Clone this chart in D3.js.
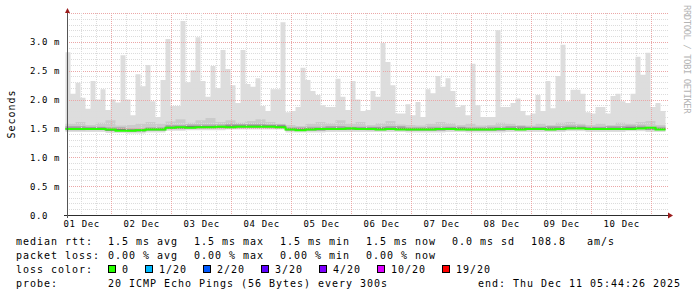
<!DOCTYPE html>
<html>
<head>
<meta charset="utf-8">
<script src="https://cdn.jsdelivr.net/npm/d3@7"></script>
<style>
body { margin: 0; background: #fff; }
svg { display: block; }
text { font-family: "DejaVu Sans Mono", monospace; fill: #000; }
</style>
</head>
<body>
<div id="chart"></div>
<script>
// time window of the graph (10 days ending at the probe time)
var endTime = new Date(2025, 11, 11, 5, 44, 26);
var startTime = new Date(endTime.getTime() - 10 * 86400000);

// rtt in ms, each array spread evenly over the window
var maxRtt = [2.82, 2.1, 2.29, 2.03, 1.84, 2.32, 2.0, 2.18, 1.82, 2.0,
              1.95, 2.77, 2.0, 1.73, 2.44, 2.23, 2.6, 1.97, 1.7, 2.34,
              3.05, 1.89, 1.89, 3.36, 2.3, 2.51, 3.08, 2.32, 2.05, 2.58,
              2.2, 2.86, 2.53, 2.25, 1.94, 2.86, 2.27, 2.22, 2.37, 1.89,
              1.8, 2.18, 2.18, 3.34, 1.78, 1.8, 1.87, 2.55, 2.34, 2.15,
              2.08, 1.9, 1.87, 1.87, 2.36, 2.05, 1.82, 2.32, 2.0, 1.8,
              1.82, 2.15, 2.05, 2.98, 2.65, 2.25, 1.76, 1.76, 1.92, 1.73,
              1.96, 1.7, 2.18, 2.11, 2.41, 2.22, 2.37, 2.15, 1.87, 1.9,
              1.73, 2.62, 1.9, 1.7, 1.7, 1.7, 3.2, 1.87, 1.87, 1.94,
              2.02, 1.8, 1.73, 1.76, 2.08, 1.8, 2.32, 1.85, 2.41, 2.95,
              1.97, 2.17, 2.17, 2.1, 1.78, 1.76, 1.87, 1.87, 1.76, 2.06,
              2.1, 1.97, 1.94, 2.1, 2.74, 2.43, 2.81, 1.87, 1.94, 1.8];
var upperRtt2 = [1.58, 1.61, 1.56, 1.60, 1.64, 1.55, 1.56, 1.58, 1.61, 1.58,
                 1.62, 1.66, 1.60, 1.64, 1.68, 1.61, 1.64, 1.60, 1.63, 1.66,
                 1.61, 1.58, 1.56, 1.54, 1.58, 1.61, 1.59, 1.64, 1.58, 1.61,
                 1.56, 1.59, 1.63, 1.57, 1.56, 1.55, 1.58, 1.61, 1.59, 1.56,
                 1.58, 1.55, 1.56, 1.60, 1.58, 1.56, 1.55, 1.58, 1.56, 1.60,
                 1.61, 1.58, 1.56, 1.58, 1.56, 1.60, 1.58, 1.61, 1.63, 1.56];
var upperRtt3 = [1.54, 1.53, 1.52, 1.50, 1.52, 1.56, 1.57, 1.57, 1.58, 1.58,
                 1.57, 1.52, 1.53, 1.54, 1.53, 1.53, 1.54, 1.52, 1.53, 1.53,
                 1.52, 1.53, 1.54, 1.53, 1.54, 1.55, 1.53, 1.54, 1.55, 1.53];
var upperRtt4 = [1.51, 1.51, 1.49, 1.48, 1.50, 1.53, 1.54, 1.54, 1.55, 1.55,
                 1.55, 1.50, 1.50, 1.51, 1.51, 1.51, 1.51, 1.50, 1.50, 1.51,
                 1.50, 1.50, 1.51, 1.51, 1.51, 1.52, 1.51, 1.51, 1.52, 1.50];
var medianRtt = [1.49, 1.49, 1.49, 1.49, 1.48, 1.46, 1.46, 1.47, 1.48, 1.48,
                 1.51, 1.52, 1.51, 1.52, 1.52, 1.53, 1.52, 1.53, 1.53, 1.53,
                 1.53, 1.52, 1.48, 1.47, 1.48, 1.49, 1.49, 1.49, 1.50, 1.49,
                 1.49, 1.48, 1.49, 1.48, 1.48, 1.48, 1.48, 1.49, 1.49, 1.48,
                 1.48, 1.48, 1.48, 1.49, 1.49, 1.48, 1.49, 1.49, 1.48, 1.49,
                 1.50, 1.50, 1.49, 1.49, 1.49, 1.49, 1.49, 1.50, 1.51, 1.48];
var lowerRtt3 = [1.48, 1.48, 1.46, 1.45, 1.47, 1.50, 1.51, 1.51, 1.52, 1.52,
                 1.52, 1.47, 1.47, 1.48, 1.48, 1.48, 1.48, 1.47, 1.47, 1.48,
                 1.47, 1.47, 1.48, 1.48, 1.48, 1.49, 1.48, 1.48, 1.49, 1.48];
var lowerRtt2 = [1.46, 1.47, 1.45, 1.44, 1.46, 1.48, 1.49, 1.50, 1.50, 1.51,
                 1.50, 1.46, 1.46, 1.47, 1.47, 1.46, 1.47, 1.46, 1.46, 1.47,
                 1.46, 1.46, 1.47, 1.47, 1.46, 1.48, 1.47, 1.47, 1.48, 1.47];
var minRtt = [1.44, 1.44, 1.42, 1.41, 1.43, 1.46, 1.47, 1.47, 1.48, 1.48,
              1.48, 1.43, 1.43, 1.44, 1.44, 1.44, 1.44, 1.43, 1.43, 1.44,
              1.43, 1.43, 1.44, 1.44, 1.44, 1.45, 1.44, 1.44, 1.45, 1.44];

var yTicks = [0, 0.5, 1.0, 1.5, 2.0, 2.5, 3.0];
var yTickLabels = ["0.0", "0.5 m", "1.0 m", "1.5 m", "2.0 m", "2.5 m", "3.0 m"];

var rttStats = ["1.5 ms avg", "1.5 ms max", "1.5 ms min", "1.5 ms now", "0.0 ms sd"];
var lossStats = ["0.00 % avg", "0.00 % max", "0.00 % min", "0.00 % now"];
var lossLabels = ["0", "1/20", "2/20", "3/20", "4/20", "10/20", "19/20"];
var lossColors = ["#26ff00", "#00b8ff", "#0059ff", "#5e00ff", "#7e00ff", "#dd00ff", "#ff0000"];

var width = 697, height = 297;
var plot = {left: 67, right: 665, top: 13, bottom: 215};

var svg = d3.select("#chart").append("svg")
    .attr("width", width)
    .attr("height", height);

svg.append("rect").attr("width", width).attr("height", height).attr("fill", "#fff");

var x = d3.scaleTime()
    .domain([startTime, endTime])
    .range([plot.left - 1.5, plot.right + 0.5]);

var y = d3.scaleLinear()
    .domain([0, 3.5])
    .range([plot.bottom, plot.top]);

// resample every array on a common step grid
var nSteps = 120;
var stepMs = (endTime - startTime) / nSteps;
function stepVal(arr, j) {
    j = Math.min(j, nSteps - 1);
    return arr[Math.floor(j * arr.length / nSteps)];
}
var steps = d3.range(nSteps + 1);
function stepTime(j) { return new Date(startTime.getTime() + j * stepMs); }

var bands = [
    {lo: minRtt, hi: maxRtt, color: "#dddddd"},
    {lo: lowerRtt2, hi: upperRtt2, color: "#cbcbcb"},
    {lo: lowerRtt3, hi: upperRtt3, color: "#adadad"},
    {lo: lowerRtt3, hi: upperRtt4, color: "#7a7a7a"}
];

bands.forEach(function(b) {
    var area = d3.area()
        .curve(d3.curveStepAfter)
        .x(j => x(stepTime(j)))
        .y0(j => y(stepVal(b.lo, j)))
        .y1(j => y(stepVal(b.hi, j)));
    svg.append("path")
        .attr("d", area(steps))
        .attr("fill", b.color);
});

// grid
var grid = svg.append("g").attr("shape-rendering", "crispEdges");
var minorColor = "#dcdcdc", majorColor = "#eba7a7";

d3.range(0, 3.51, 0.1).forEach(function(v) {
    var major = Math.abs(v * 2 - Math.round(v * 2)) < 1e-6;
    if (v < 0.05) return;
    grid.append("line")
        .attr("x1", plot.left).attr("x2", plot.right + 4)
        .attr("y1", Math.round(y(v)) + 0.5).attr("y2", Math.round(y(v)) + 0.5)
        .attr("stroke", major ? majorColor : minorColor)
        .attr("stroke-dasharray", "1,1");
});

d3.timeHour.every(6).range(startTime, endTime).forEach(function(t) {
    var major = t.getHours() === 0;
    var xx = Math.round(x(t)) + 0.5;
    if (xx < plot.left + 1) return;
    grid.append("line")
        .attr("x1", xx).attr("x2", xx)
        .attr("y1", plot.top).attr("y2", plot.bottom)
        .attr("stroke", major ? majorColor : minorColor)
        .attr("stroke-dasharray", "1,1");
});

// median line
var medLine = d3.line()
    .curve(d3.curveStepAfter)
    .x(j => x(stepTime(j)))
    .y(j => y(stepVal(medianRtt, j)));
svg.append("path")
    .attr("d", medLine(steps))
    .attr("fill", "none")
    .attr("stroke", lossColors[0])
    .attr("stroke-width", 2);

// axes
var axisColor = "#2c2c2c", arrowColor = "#9b1c1c";
svg.append("line")
    .attr("x1", plot.left - 3).attr("x2", plot.right + 4)
    .attr("y1", plot.bottom + 0.5).attr("y2", plot.bottom + 0.5)
    .attr("stroke", axisColor);
svg.append("line")
    .attr("x1", plot.left + 0.5).attr("x2", plot.left + 0.5)
    .attr("y1", plot.top).attr("y2", plot.bottom + 3)
    .attr("stroke", "#555");
svg.append("path")
    .attr("d", `M${plot.right + 3},${plot.bottom - 2.5}L${plot.right + 8},${plot.bottom + 0.5}L${plot.right + 3},${plot.bottom + 3.5}Z`)
    .attr("fill", arrowColor);
svg.append("path")
    .attr("d", `M${plot.left - 2},${plot.top}L${plot.left + 0.5},${plot.top - 5}L${plot.left + 3},${plot.top}Z`)
    .attr("fill", arrowColor);

// y tick labels
svg.selectAll("text.ytick")
    .data(yTicks)
    .enter()
    .append("text")
    .attr("class", "ytick")
    .attr("x", 30)
    .attr("y", d => y(d) + 3.5)
    .style("font-size", "9px")
    .style("letter-spacing", "0.6px")
    .attr("xml:space", "preserve")
    .text((d, i) => yTickLabels[i]);

// x labels at noon of each day
var labelDays = d3.timeDay.range(d3.timeDay.floor(startTime), endTime)
    .map(d => d3.timeHour.offset(d, 12))
    .filter(d => d > startTime && d < endTime);
svg.selectAll("text.xtick")
    .data(labelDays)
    .enter()
    .append("text")
    .attr("class", "xtick")
    .attr("x", d => x(d) + 0.5)
    .attr("y", 227)
    .attr("text-anchor", "middle")
    .style("font-size", "9px")
    .style("letter-spacing", "0.6px")
    .text(d => d3.timeFormat("%d %b")(d));

// y axis title
svg.append("text")
    .attr("transform", "translate(14.5,114) rotate(-90)")
    .attr("text-anchor", "middle")
    .style("font-size", "10px")
    .style("letter-spacing", "1px")
    .text("Seconds");

// watermark
svg.append("text")
    .attr("transform", "translate(684,5) rotate(90)")
    .style("font-size", "9px")
    .style("letter-spacing", "-0.5px")
    .style("fill", "#b4b4b4")
    .text("RRDTOOL / TOBI OETIKER");

// legend
var legend = svg.append("g")
    .style("font-size", "10px")
    .style("letter-spacing", "0.98px");
var rows = [244.5, 258.5, 272.5, 286.5];
var colX = [108, 194, 280, 366, 452];

legend.append("text").attr("x", 16).attr("y", rows[0]).text("median rtt:");
rttStats.forEach(function(s, i) {
    legend.append("text").attr("x", colX[i]).attr("y", rows[0]).text(s);
});
legend.append("text").attr("x", 531).attr("y", rows[0]).text("108.8");
legend.append("text").attr("x", 587).attr("y", rows[0]).text("am/s");

legend.append("text").attr("x", 16).attr("y", rows[1]).text("packet loss:");
lossStats.forEach(function(s, i) {
    legend.append("text").attr("x", colX[i]).attr("y", rows[1]).text(s);
});

legend.append("text").attr("x", 16).attr("y", rows[2]).text("loss color:");
var lx = 108;
lossLabels.forEach(function(s, i) {
    legend.append("rect")
        .attr("x", lx + 0.5).attr("y", 265.5)
        .attr("width", 7).attr("height", 7)
        .attr("fill", lossColors[i])
        .attr("stroke", "#000");
    legend.append("text").attr("x", lx + 14).attr("y", rows[2]).text(s);
    lx += 14 + 7 * s.length + 16;
});

legend.append("text").attr("x", 16).attr("y", rows[3]).text("probe:");
legend.append("text").attr("x", 108).attr("y", rows[3]).text("20 ICMP Echo Pings (56 Bytes) every 300s");
legend.append("text").attr("x", 478).attr("y", rows[3]).text("end: Thu Dec 11 05:44:26 2025");
</script>
</body>
</html>
